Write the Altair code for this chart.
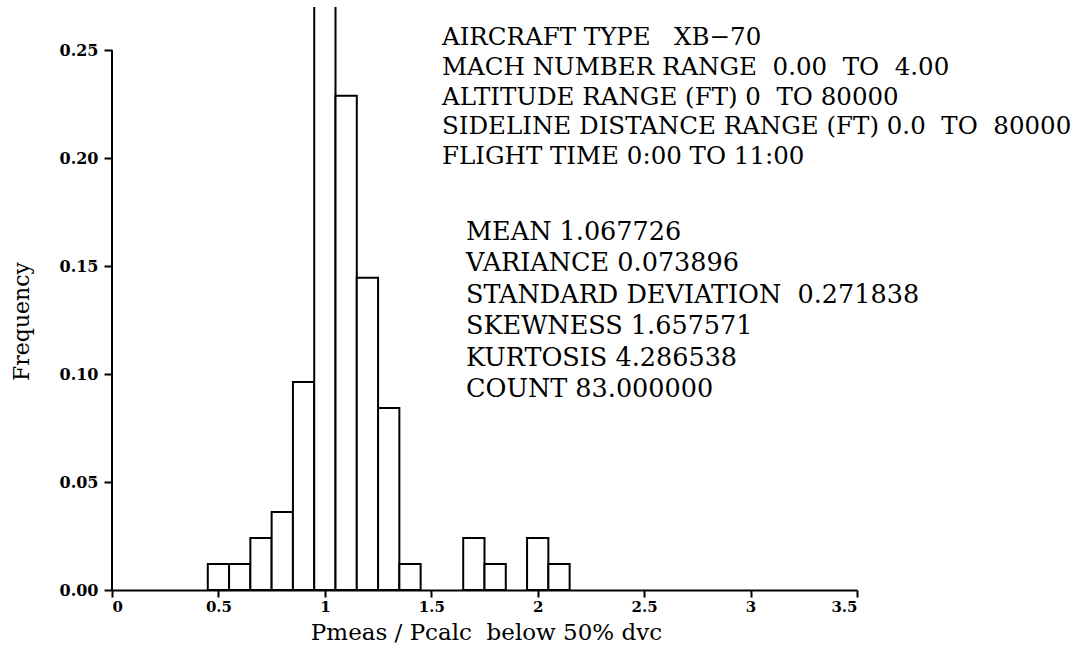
import altair as alt
import pandas as pd

# Histogram of Pmeas / Pcalc, bins of width 0.1 (counts out of 83 samples)
bin_left = [0.45, 0.55, 0.65, 0.75, 0.85, 0.95, 1.05, 1.15, 1.25, 1.35, 1.65, 1.75, 1.95, 2.05]
counts = [1, 1, 2, 3, 8, 23, 19, 12, 7, 1, 2, 1, 2, 1]
total_count = 83
bin_width = 0.1

x_ticks = [0, 0.5, 1, 1.5, 2, 2.5, 3, 3.5]
y_ticks = [0.0, 0.05, 0.10, 0.15, 0.20, 0.25]

NB = "\u00a0"  # non-breaking space keeps the wide gaps in SVG text
header_lines = [
    "AIRCRAFT TYPE" + NB * 3 + "XB\u221270",
    "MACH NUMBER RANGE" + NB * 2 + "0.00" + NB * 2 + "TO" + NB * 2 + "4.00",
    "ALTITUDE RANGE (FT) 0" + NB * 2 + "TO 80000",
    "SIDELINE DISTANCE RANGE (FT) 0.0" + NB * 2 + "TO" + NB * 2 + "80000",
    "FLIGHT TIME 0:00 TO 11:00",
]
stats_lines = [
    "MEAN 1.067726",
    "VARIANCE 0.073896",
    "STANDARD DEVIATION" + NB * 2 + "0.271838",
    "SKEWNESS 1.657571",
    "KURTOSIS 4.286538",
    "COUNT 83.000000",
]

SERIF = "DejaVu Serif"
W, H = 745, 583

hist = pd.DataFrame({
    "left": bin_left,
    "right": [b + bin_width for b in bin_left],
    "freq": [c / total_count for c in counts],
})

x_scale = alt.Scale(domain=[0, 3.5], nice=False, zero=False)
y_scale = alt.Scale(domain=[0, 0.27], nice=False)

bars = alt.Chart(hist).mark_rect(
    fill="white", stroke="black", strokeWidth=2, clip=True
).encode(
    x=alt.X("left:Q", scale=x_scale, axis=alt.Axis(
        values=x_ticks, format="~g", title="Pmeas / Pcalc" + NB * 2 + "below 50% dvc",
        domainColor="black", domainWidth=2, tickColor="black", tickWidth=2, tickSize=7,
        labelFont=SERIF, labelFontWeight="bold", labelFontSize=15, labelColor="black",
        labelPadding=2, grid=False,
        titleFont=SERIF, titleFontWeight="normal", titleFontSize=23, titleColor="black",
        titleX=374, titleY=49, titleAlign="center", titleBaseline="alphabetic",
    )),
    x2="right:Q",
    y=alt.Y("freq:Q", scale=y_scale, axis=alt.Axis(
        values=y_ticks, format=".2f", title="Frequency", domain=False,
        tickColor="black", tickWidth=2, tickSize=8,
        labelFont=SERIF, labelFontWeight="bold", labelFontSize=16, labelColor="black",
        labelPadding=6, grid=False,
        titleFont=SERIF, titleFontWeight="normal", titleFontSize=22, titleColor="black",
        titleX=-91, titleY=314, titleAngle=-90, titleAlign="center", titleBaseline="middle",
    )),
    y2=alt.datum(0),
)

# Vertical axis line running only up to the top tick
y_line = alt.Chart(pd.DataFrame({"x": [0]})).mark_rule(color="black", strokeWidth=2).encode(
    x=alt.X("x:Q", scale=x_scale),
    y=alt.datum(0.0),
    y2=alt.datum(y_ticks[-1]),
)

layers = [bars, y_line]


def text_block(lines, left, first_baseline, spacing, size):
    out = []
    for i, line in enumerate(lines):
        out.append(
            alt.Chart(pd.DataFrame({"t": [line]})).mark_text(
                align="left", baseline="alphabetic", font=SERIF,
                fontSize=size, color="black",
            ).encode(
                x=alt.value(left),
                y=alt.value(first_baseline + i * spacing),
                text="t:N",
            )
        )
    return out


layers += text_block(header_lines, 330, 38, 29.8, 24.5)
layers += text_block(stats_lines, 354, 233, 31.4, 25.5)

chart = alt.layer(*layers).properties(
    width=W, height=H,
    autosize=alt.AutoSizeParams(type="none"),
    padding={"left": 112, "top": 7, "right": 227, "bottom": 62},
    background="white",
).configure_view(stroke=None)

chart.save("out.html", embed_options={"renderer": "svg", "actions": False})
